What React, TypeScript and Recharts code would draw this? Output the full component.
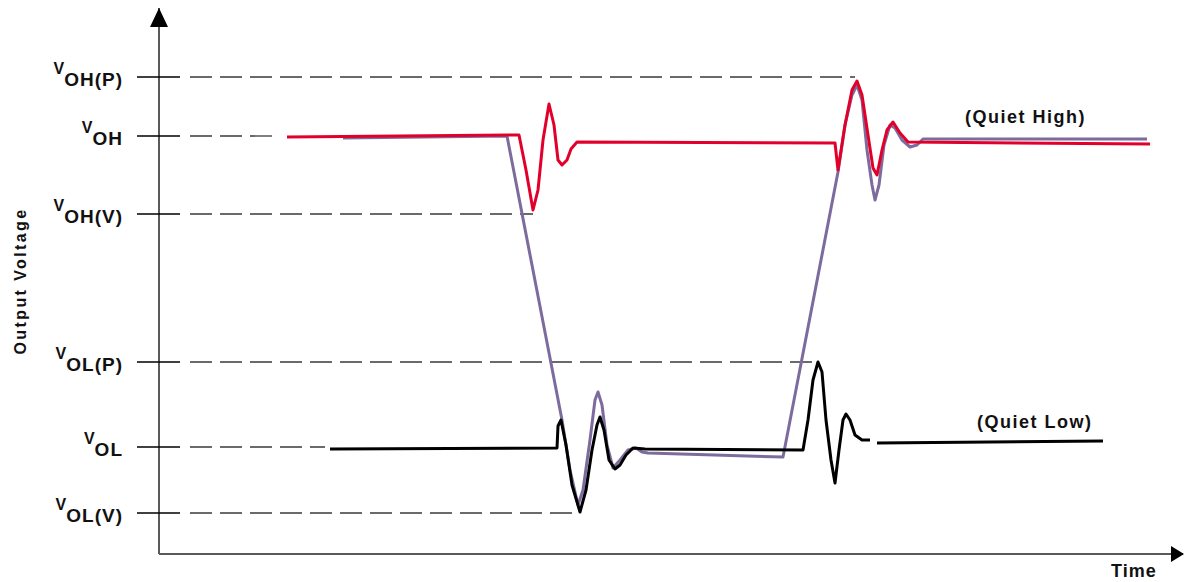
import React from 'react';
import { LineChart, Line, XAxis, YAxis, ReferenceLine, ReferenceDot } from 'recharts';

// time in arbitrary units from the origin, voltage in volts
const levelValues = [4.77, 4.18, 3.4, 1.92, 1.07, 0.41];
const levelSubs = ['OH(P)', 'OH', 'OH(V)', 'OL(P)', 'OL', 'OL(V)'];
const guideEnds = [696, 121, 374, 656, 166, 421];

const quietHigh = [
  { t: 128, v: 4.17 }, { t: 360, v: 4.19 }, { t: 367, v: 3.84 }, { t: 374, v: 3.44 },
  { t: 379, v: 3.64 }, { t: 384, v: 4.14 }, { t: 390, v: 4.5 }, { t: 395, v: 4.29 },
  { t: 399, v: 3.94 }, { t: 403, v: 3.89 }, { t: 408, v: 3.94 }, { t: 412, v: 4.05 },
  { t: 418, v: 4.12 }, { t: 676, v: 4.11 }, { t: 679, v: 3.84 }, { t: 686, v: 4.29 },
  { t: 693, v: 4.64 }, { t: 698, v: 4.73 }, { t: 703, v: 4.59 }, { t: 709, v: 4.19 },
  { t: 714, v: 3.86 }, { t: 718, v: 3.79 }, { t: 723, v: 4.04 }, { t: 728, v: 4.24 },
  { t: 734, v: 4.32 }, { t: 741, v: 4.21 }, { t: 749, v: 4.12 }, { t: 991, v: 4.1 },
];

const switching = [
  { t: 184, v: 4.16 }, { t: 348, v: 4.18 }, { t: 403, v: 1.34 }, { t: 411, v: 0.84 },
  { t: 419, v: 0.49 }, { t: 424, v: 0.64 }, { t: 431, v: 1.14 }, { t: 436, v: 1.54 },
  { t: 439, v: 1.62 }, { t: 443, v: 1.49 }, { t: 448, v: 1.09 }, { t: 454, v: 0.86 },
  { t: 461, v: 0.94 }, { t: 469, v: 1.04 }, { t: 477, v: 1.06 }, { t: 483, v: 1.02 },
  { t: 489, v: 1.01 }, { t: 624, v: 0.97 }, { t: 679, v: 3.82 }, { t: 686, v: 4.29 },
  { t: 693, v: 4.59 }, { t: 698, v: 4.69 }, { t: 703, v: 4.54 }, { t: 708, v: 4.04 },
  { t: 713, v: 3.69 }, { t: 716, v: 3.54 }, { t: 720, v: 3.69 }, { t: 725, v: 4.09 },
  { t: 731, v: 4.29 }, { t: 736, v: 4.26 }, { t: 743, v: 4.14 }, { t: 751, v: 4.07 },
  { t: 758, v: 4.09 }, { t: 764, v: 4.15 }, { t: 988, v: 4.15 },
];

const quietLow = [
  { t: 171, v: 1.05 }, { t: 398, v: 1.06 }, { t: 399, v: 1.28 }, { t: 402, v: 1.34 },
  { t: 407, v: 1.09 }, { t: 413, v: 0.69 }, { t: 421, v: 0.42 }, { t: 427, v: 0.64 },
  { t: 433, v: 1.04 }, { t: 438, v: 1.29 }, { t: 441, v: 1.37 }, { t: 445, v: 1.24 },
  { t: 450, v: 0.94 }, { t: 456, v: 0.85 }, { t: 461, v: 0.89 }, { t: 467, v: 0.99 },
  { t: 474, v: 1.06 }, { t: 486, v: 1.05 }, { t: 644, v: 1.04 }, { t: 649, v: 1.34 },
  { t: 654, v: 1.74 }, { t: 659, v: 1.92 }, { t: 663, v: 1.82 }, { t: 667, v: 1.34 },
  { t: 672, v: 0.94 }, { t: 676, v: 0.71 }, { t: 680, v: 1.04 }, { t: 684, v: 1.34 },
  { t: 687, v: 1.4 }, { t: 691, v: 1.34 }, { t: 696, v: 1.19 }, { t: 703, v: 1.14 },
  { t: 711, v: 1.14 }, { t: 714, v: null }, { t: 718, v: 1.11 }, { t: 944, v: 1.13 },
];

const FONT = '"Liberation Sans", Arial, sans-serif';

const LevelTick = (props: any) => {
  const { x, y, payload } = props;
  const sub = levelSubs[levelValues.indexOf(payload.value)];
  return (
    <g>
      <line x1={x - 22} x2={x + 21} y1={y} y2={y} stroke="#000" strokeWidth={1.5} />
      <text x={x - 36} y={y + 9} textAnchor="end" fontFamily={FONT} fontWeight="bold" fill="#111">
        <tspan fontSize={16} dy={-12}>V</tspan>
        <tspan fontSize={19} dy={12} letterSpacing={1}>{sub}</tspan>
      </text>
    </g>
  );
};

const note = (txt: string) => (p: any) => (
  <text x={p.cx} y={p.cy} fontFamily={FONT} fontWeight="bold" fontSize={18} letterSpacing={1.5} fill="#111">
    {txt}
  </text>
);

export default function App() {
  return (
    <div style={{ position: 'absolute', left: 0, top: 0, width: 1185, height: 582, background: '#fff' }}>
      <LineChart width={1185} height={582} margin={{ top: 8, right: 2, bottom: 0, left: 0 }}>
        <XAxis
          type="number"
          dataKey="t"
          domain={[0, 1024]}
          height={28}
          tick={false}
          tickLine={false}
          axisLine={{ stroke: '#5a5a5a', strokeWidth: 2 }}
          label={{
            content: (p: any) => (
              <text x={p.viewBox.x + p.viewBox.width - 72} y={p.viewBox.y + 23} fontFamily={FONT}
                fontWeight="bold" fontSize={18} letterSpacing={1} fill="#111">Time</text>
            ),
          }}
        />
        <YAxis
          type="number"
          domain={[0, 5.46]}
          width={159}
          ticks={levelValues}
          interval={0}
          tickSize={0}
          tickMargin={0}
          tickLine={false}
          tick={(p: any) => <LevelTick {...p} />}
          axisLine={{ stroke: '#5a5a5a', strokeWidth: 2 }}
          label={{
            content: (p: any) => {
              const cy = p.viewBox.y + p.viewBox.height / 2;
              return (
                <text x={20} y={cy} transform={`rotate(-90, 20, ${cy})`} textAnchor="middle"
                  dominantBaseline="central" fontFamily={FONT} fontWeight="bold" fontSize={16}
                  letterSpacing={2.4} fill="#111">Output Voltage</text>
              );
            },
          }}
        />
        {levelValues.map((lv, i) => (
          <ReferenceLine key={i} segment={[{ x: 31, y: lv }, { x: guideEnds[i], y: lv }]}
            stroke="#3a3a3a" strokeWidth={1.3} strokeDasharray="22 8" />
        ))}
        <Line data={switching} dataKey="v" type="linear" stroke="#7d6b9d" strokeWidth={3}
          dot={false} isAnimationActive={false} strokeLinejoin="round" />
        <Line data={quietHigh} dataKey="v" type="linear" stroke="#e2002b" strokeWidth={3}
          dot={false} isAnimationActive={false} strokeLinejoin="round" />
        <Line data={quietLow} dataKey="v" type="linear" stroke="#000" strokeWidth={3}
          dot={false} isAnimationActive={false} strokeLinejoin="round" />
        <ReferenceDot x={0} y={5.27} r={0} ifOverflow="visible"
          shape={(p: any) => <polygon points={`${p.cx - 9},${p.cy} ${p.cx + 9},${p.cy} ${p.cx},${p.cy - 19}`} fill="#000" />} />
        <ReferenceDot x={1012} y={0} r={0} ifOverflow="visible"
          shape={(p: any) => <polygon points={`${p.cx},${p.cy - 8} ${p.cx},${p.cy + 8} ${p.cx + 13},${p.cy}`} fill="#000" />} />
        <ReferenceDot x={806} y={4.31} r={0} ifOverflow="visible" shape={note('(Quiet High)')} />
        <ReferenceDot x={818} y={1.26} r={0} ifOverflow="visible" shape={note('(Quiet Low)')} />
      </LineChart>
    </div>
  );
}
